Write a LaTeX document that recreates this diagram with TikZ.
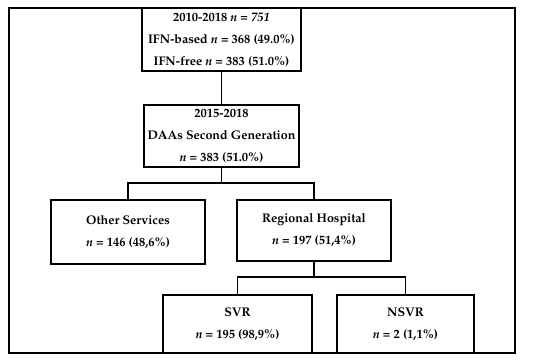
\documentclass[tikz,border=0pt]{standalone}
\usepackage[T1]{fontenc}
\usepackage{mathpazo}
\begin{document}
\begin{tikzpicture}[x=1pt,y=1pt,
  box/.style={draw, line width=1.4pt, align=center, inner sep=0pt,
    font=\fontsize{12.5}{22}\selectfont\bfseries},
  link/.style={line width=1.4pt}]
\useasboundingbox (0,0) rectangle (550,360);
\draw[line width=1.2pt] (9,7) rectangle (515,352);
\node[box, minimum width=159pt, minimum height=63pt] (top) at (221.5,320.5)
  {2010-2018 \textit{n} = \textit{751}\\IFN-based \textit{n} = 368 (49.0\%)\\IFN-free \textit{n} = 383 (51.0\%)};
\node[box, minimum width=155pt, minimum height=62pt] (daa) at (221.5,224)
  {2015-2018\\DAAs Second Generation\\\textit{n} = 383 (51.0\%)};
\node[box, minimum width=154pt, minimum height=64pt] (other) at (128,128)
  {Other Services\\\textit{n} = 146 (48,6\%)};
\node[box, minimum width=154pt, minimum height=61pt] (reg) at (314,129.5)
  {Regional Hospital\\\textit{n} = 197 (51,4\%)};
\node[box, minimum width=149pt, minimum height=58pt] (svr) at (237.5,36)
  {SVR\\\textit{n} = 195 (98,9\%)};
\node[box, minimum width=137pt, minimum height=58pt] (nsvr) at (405.5,36)
  {NSVR\\\textit{n} = 2 (1,1\%)};
\coordinate (j1) at (daa.south |- 0,177);
\coordinate (j2) at (reg.south |- 0,83);
\draw[link] (top.south) -- (daa.north);
\draw[link] (daa.south) -- (j1) -| (other.north);
\draw[link] (j1) -| (reg.north);
\draw[link] (reg.south) -- (j2) -| (svr.north);
\draw[link] (j2) -| (nsvr.north);
\end{tikzpicture}
\end{document}
